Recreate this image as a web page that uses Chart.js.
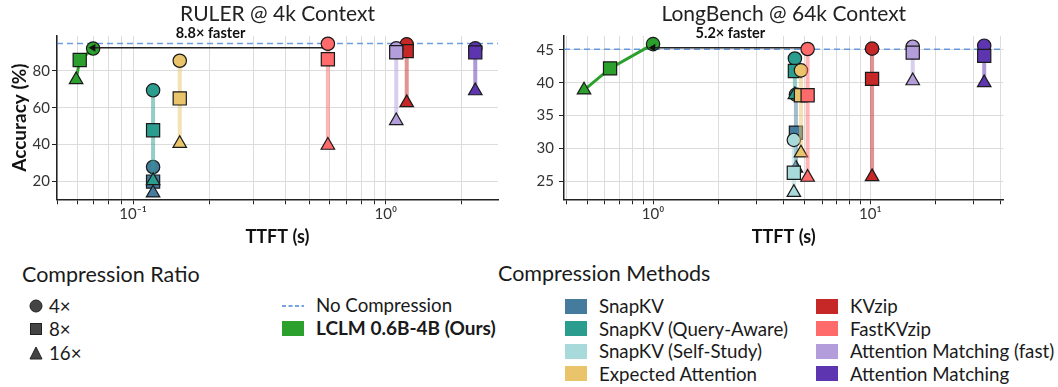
<!DOCTYPE html>
<html>
<head>
<meta charset="utf-8">
<script src="https://cdn.jsdelivr.net/npm/chart.js@4.4.1/dist/chart.umd.min.js"></script>
<style>
  html,body{margin:0;padding:0;background:#fff;}
  body{width:1058px;height:387px;position:relative;overflow:hidden;font-family:Lato,"Noto Sans",sans-serif;color:#1a1a1a;}
  canvas{position:absolute;top:0;}
  #c1{left:0;}
  #c2{left:510px;}
  .t{position:absolute;white-space:nowrap;height:22px;line-height:22px;}
  .h{font-size:21.5px;}
  .i{font-size:18.7px;}
  .b{font-weight:700;font-size:19px;}
  .sw{position:absolute;width:22px;height:15px;}
</style>
</head>
<body>
<canvas id="c1" width="510" height="250"></canvas>
<canvas id="c2" width="548" height="250"></canvas>
<div id="legend"></div>
<script>
// ---------------- data ----------------
const methods = ['SnapKV','SnapKV (Query-Aware)','SnapKV (Self-Study)','Expected Attention','KVzip','FastKVzip','Attention Matching (fast)','Attention Matching'];
const methodColors = ['#457b9d','#2a9d8f','#a8dadc','#e9c46a','#c62828','#ff6b6b','#b39ddb','#5e35b1'];
const ratioLabels = ['4×','8×','16×'];
const oursLabel = 'LCLM 0.6B-4B (Ours)';
const noCompLabel = 'No Compression';

// RULER @ 4k Context  (TTFT in s, accuracy in % for 4x / 8x / 16x)
const rulerTTFT  = [0.120, 0.120, null, 0.153, 1.21, 0.59, 1.10, 2.26];
const rulerAcc4  = [27.9, 69.4, null, 85.4, 94.3, 94.6, 92.1, 92.1];
const rulerAcc8  = [20.0, 47.8, null, 65.0, 90.6, 86.2, 90.0, 89.9];
const rulerAcc16 = [13.8, 20.5, null, 40.6, 62.7, 39.6, 52.9, 69.1];
const rulerOursTTFT = [0.0695, 0.0615, 0.0595];
const rulerOursAcc  = [92.0, 85.8, 75.1];
const rulerNoComp = 94.7;
const rulerArrow = [0.59, 0.0695, 92.4];   // from TTFT, to TTFT, accuracy
const rulerSpeedup = '8.8× faster';
const rulerXRange = [0.05, 2.78];
const rulerYRange = [10.4, 98.8];
const rulerYTicks = [20, 40, 60, 80];
const rulerXMajor = [0.1, 1];
const rulerXLabels = ['10⁻¹', '10⁰'];

// LongBench @ 64k Context
const lbTTFT  = [4.55, 4.50, 4.45, 4.80, 10.2, 5.15, 15.7, 33.5];
const lbAcc4  = [38.2, 43.7, 31.3, 41.9, 45.2, 45.15, 45.5, 45.65];
const lbAcc8  = [32.4, 41.8, 26.3, 38.1, 40.6, 38.1, 44.6, 44.1];
const lbAcc16 = [27.0, 38.2, 23.3, 29.3, 25.7, 25.6, 40.3, 40.0];
const lbOursTTFT = [1.0, 0.634, 0.481];
const lbOursAcc  = [45.9, 42.2, 38.9];
const lbNoComp = 45.1;
const lbArrow = [5.15, 1.0, 45.35];
const lbSpeedup = '5.2× faster';
const lbXRange = [0.389, 41.1];
const lbYRange = [22.26, 47.13];
const lbYTicks = [25, 30, 35, 40, 45];
const lbXMajor = [1, 10];
const lbXLabels = ['10⁰', '10¹'];

// ---------------- styling helpers ----------------
const FONT = 'Lato, "Noto Sans", sans-serif';
Chart.defaults.font.family = FONT;
const GREEN = '#2ca02c';
const ratioStyles = ['circle','rect','triangle'];
const ratioRadius = [6.7, 9.3, 7.8];

function hexA(hex, a){
  const n = parseInt(hex.slice(1),16);
  return `rgba(${(n>>16)&255},${(n>>8)&255},${n&255},${a})`;
}
function logTicks(min, max){
  const out = [];
  for (let e = Math.floor(Math.log10(min)); e <= Math.ceil(Math.log10(max)); e++){
    for (let m = 1; m <= 9; m++){
      const v = +(m*Math.pow(10,e)).toPrecision(6);
      if (v >= min && v <= max) out.push(v);
    }
  }
  return out;
}

const speedLabel = {
  id: 'speedLabel',
  afterDatasetsDraw(chart, args, opts){
    const {ctx, chartArea} = chart;
    const x = chart.scales.x;
    const px = x.getPixelForValue(Math.sqrt(opts.from*opts.to));
    ctx.save();
    ctx.font = 'bold 14.5px ' + FONT;
    ctx.fillStyle = '#111';
    ctx.textAlign = 'center';
    ctx.textBaseline = 'middle';
    ctx.fillText(opts.text, px, chartArea.top - 3);
    ctx.restore();
  }
};

function makeChart(id, c){
  const datasets = [];
  datasets.push({
    data: [{x:c.xRange[0], y:c.noComp},{x:c.xRange[1], y:c.noComp}],
    showLine:true, borderColor:'rgba(74,134,216,0.8)', borderDash:[6,4], borderWidth:1.5,
    pointRadius:0, order:300
  });
  methods.forEach((m,i)=>{
    if (c.ttft[i] == null) return;
    datasets.push({
      label:m,
      data:[{x:c.ttft[i], y:c.acc4[i]},{x:c.ttft[i], y:c.acc8[i]},{x:c.ttft[i], y:c.acc16[i]}],
      showLine:true, borderColor:hexA(methodColors[i],0.5), borderWidth:4,
      pointStyle:ratioStyles, pointRadius:ratioRadius,
      pointBackgroundColor:methodColors[i], pointBorderColor:'#1a1a1a', pointBorderWidth:1.2,
      order:100-i
    });
  });
  datasets.push({
    label:oursLabel,
    data:c.oursTTFT.map((t,k)=>({x:t, y:c.oursAcc[k]})),
    showLine:true, borderColor:GREEN, borderWidth:3,
    pointStyle:ratioStyles, pointRadius:ratioRadius,
    pointBackgroundColor:GREEN, pointBorderColor:'#1a1a1a', pointBorderWidth:1.2,
    order:200
  });
  datasets.push({
    data:[{x:c.arrow[0], y:c.arrow[2]},{x:c.arrow[1], y:c.arrow[2]}],
    showLine:true, borderColor:'#222', borderWidth:1.5,
    pointStyle:'triangle', pointRotation:-90, pointRadius:[0,4.5],
    pointBackgroundColor:'#111', pointBorderColor:'#111', pointBorderWidth:0,
    order:150
  });

  const xTicks = logTicks(c.xRange[0], c.xRange[1]);
  return new Chart(document.getElementById(id), {
    type:'scatter',
    data:{datasets},
    plugins:[speedLabel],
    options:{
      responsive:false, animation:false, events:[],
      devicePixelRatio:1,
      clip:false,
      layout:{padding:{left:0, right:c.padRight, top:0, bottom:0}},
      plugins:{
        legend:{display:false}, tooltip:{enabled:false},
        title:{display:true, text:c.title, fullSize:false, color:'#222',
               font:{size:21, weight:'normal', family:FONT}, padding:{top:1.4, bottom:9.4}},
        speedLabel:{text:c.speed, from:c.arrow[0], to:c.arrow[1]}
      },
      datasets:{scatter:{clip:false}},
      scales:{
        x:{
          type:'logarithmic', min:c.xRange[0], max:c.xRange[1],
          afterBuildTicks:s=>{ s.ticks = xTicks.map(v=>({value:v})); },
          afterFit:s=>{ s.height = 50.7; },
          ticks:{autoSkip:false, maxRotation:0, minRotation:0, padding:1, color:'#333',
                 font:{size:15, family:FONT},
                 callback:(v)=>{ const k = c.xMajor.findIndex(m=>Math.abs(m-v)/m < 1e-6); return k>=0 ? c.xLabels[k] : ''; }},
          grid:{color:'#dcdcdc', lineWidth:1, tickLength:5, tickColor:'#222', tickWidth:1},
          border:{color:'#222', width:1.5},
          title:{display:true, text:'TTFT (s)', color:'#111', font:{size:18, weight:'bold', family:FONT}, padding:{top:0, bottom:2}}
        },
        y:{
          min:c.yRange[0], max:c.yRange[1],
          afterBuildTicks:s=>{ s.ticks = c.yTicks.map(v=>({value:v})); },
          afterFit:s=>{ s.width = c.yWidth; },
          ticks:{padding:c.yPad, color:'#333', font:{size:15, family:FONT}},
          grid:{color:'#dcdcdc', lineWidth:1, tickLength:5, tickColor:'#222', tickWidth:1},
          border:{color:'#222', width:1.5},
          title:{display:c.yTitle, text:'Accuracy (%)', color:'#111', font:{size:19, weight:'bold', family:FONT}, padding:{top:8.6, bottom:0}}
        }
      }
    }
  });
}

makeChart('c1', {
  title:'RULER @ 4k Context', ttft:rulerTTFT, acc4:rulerAcc4, acc8:rulerAcc8, acc16:rulerAcc16,
  oursTTFT:rulerOursTTFT, oursAcc:rulerOursAcc, noComp:rulerNoComp, arrow:rulerArrow, speed:rulerSpeedup,
  xRange:rulerXRange, yRange:rulerYRange, yTicks:rulerYTicks, xMajor:rulerXMajor, xLabels:rulerXLabels,
  padRight:12, yWidth:57, yPad:2, yTitle:true
});
makeChart('c2', {
  title:'LongBench @ 64k Context', ttft:lbTTFT, acc4:lbAcc4, acc8:lbAcc8, acc16:lbAcc16,
  oursTTFT:lbOursTTFT, oursAcc:lbOursAcc, noComp:lbNoComp, arrow:lbArrow, speed:lbSpeedup,
  xRange:lbXRange, yRange:lbYRange, yTicks:lbYTicks, xMajor:lbXMajor, xLabels:lbXLabels,
  padRight:54.5, yWidth:54, yPad:5, yTitle:false
});

// ---------------- legend (HTML) ----------------
const L = document.getElementById('legend');
function txt(s, x, cy, cls){
  const d = document.createElement('div');
  d.className = 't ' + cls; d.textContent = s;
  d.style.left = x + 'px'; d.style.top = (cy - 11) + 'px';
  L.appendChild(d);
}
function sw(color, x, cy){
  const d = document.createElement('div');
  d.className = 'sw'; d.style.background = color;
  d.style.left = x + 'px'; d.style.top = (cy - 7.5) + 'px';
  L.appendChild(d);
}
txt('Compression Ratio', 22, 274, 'h');
const rowY = [306, 329, 352.5, 374];
const shapes = [
  '<circle cx="7" cy="7" r="6" fill="#444" stroke="#222" stroke-width="1"/>',
  '<rect x="1.5" y="1.5" width="11" height="11" fill="#444" stroke="#222" stroke-width="1"/>',
  '<polygon points="7,1 13,13 1,13" fill="#444" stroke="#222" stroke-width="1"/>'
];
ratioLabels.forEach((r,k)=>{
  const s = document.createElementNS('http://www.w3.org/2000/svg','svg');
  s.setAttribute('width','14'); s.setAttribute('height','14');
  s.style.position='absolute'; s.style.left='29px'; s.style.top=(rowY[k]-7)+'px';
  s.innerHTML = shapes[k];
  L.appendChild(s);
  txt(r, 49, rowY[k], 'i');
});
// no compression + ours
const dl = document.createElementNS('http://www.w3.org/2000/svg','svg');
dl.setAttribute('width','22'); dl.setAttribute('height','4');
dl.style.position='absolute'; dl.style.left='282px'; dl.style.top='304px';
dl.innerHTML = '<line x1="0" y1="2" x2="22" y2="2" stroke="#4a86d8" stroke-width="1.5" stroke-dasharray="4,2.5"/>';
L.appendChild(dl);
txt(noCompLabel, 316, 305, 'i');
sw(GREEN, 282, 328);
txt(oursLabel, 316, 328, 'i b');

txt('Compression Methods', 498, 273, 'h');
const mRowY = [306, 328.5, 351, 373.5];
methods.forEach((m,i)=>{
  const col = i < 4 ? 0 : 1, row = i % 4;
  const sx = col ? 816 : 565, tx = col ? 850 : 599;
  sw(methodColors[i], sx, mRowY[row]);
  txt(m, tx, mRowY[row], 'i');
});
</script>
</body>
</html>
